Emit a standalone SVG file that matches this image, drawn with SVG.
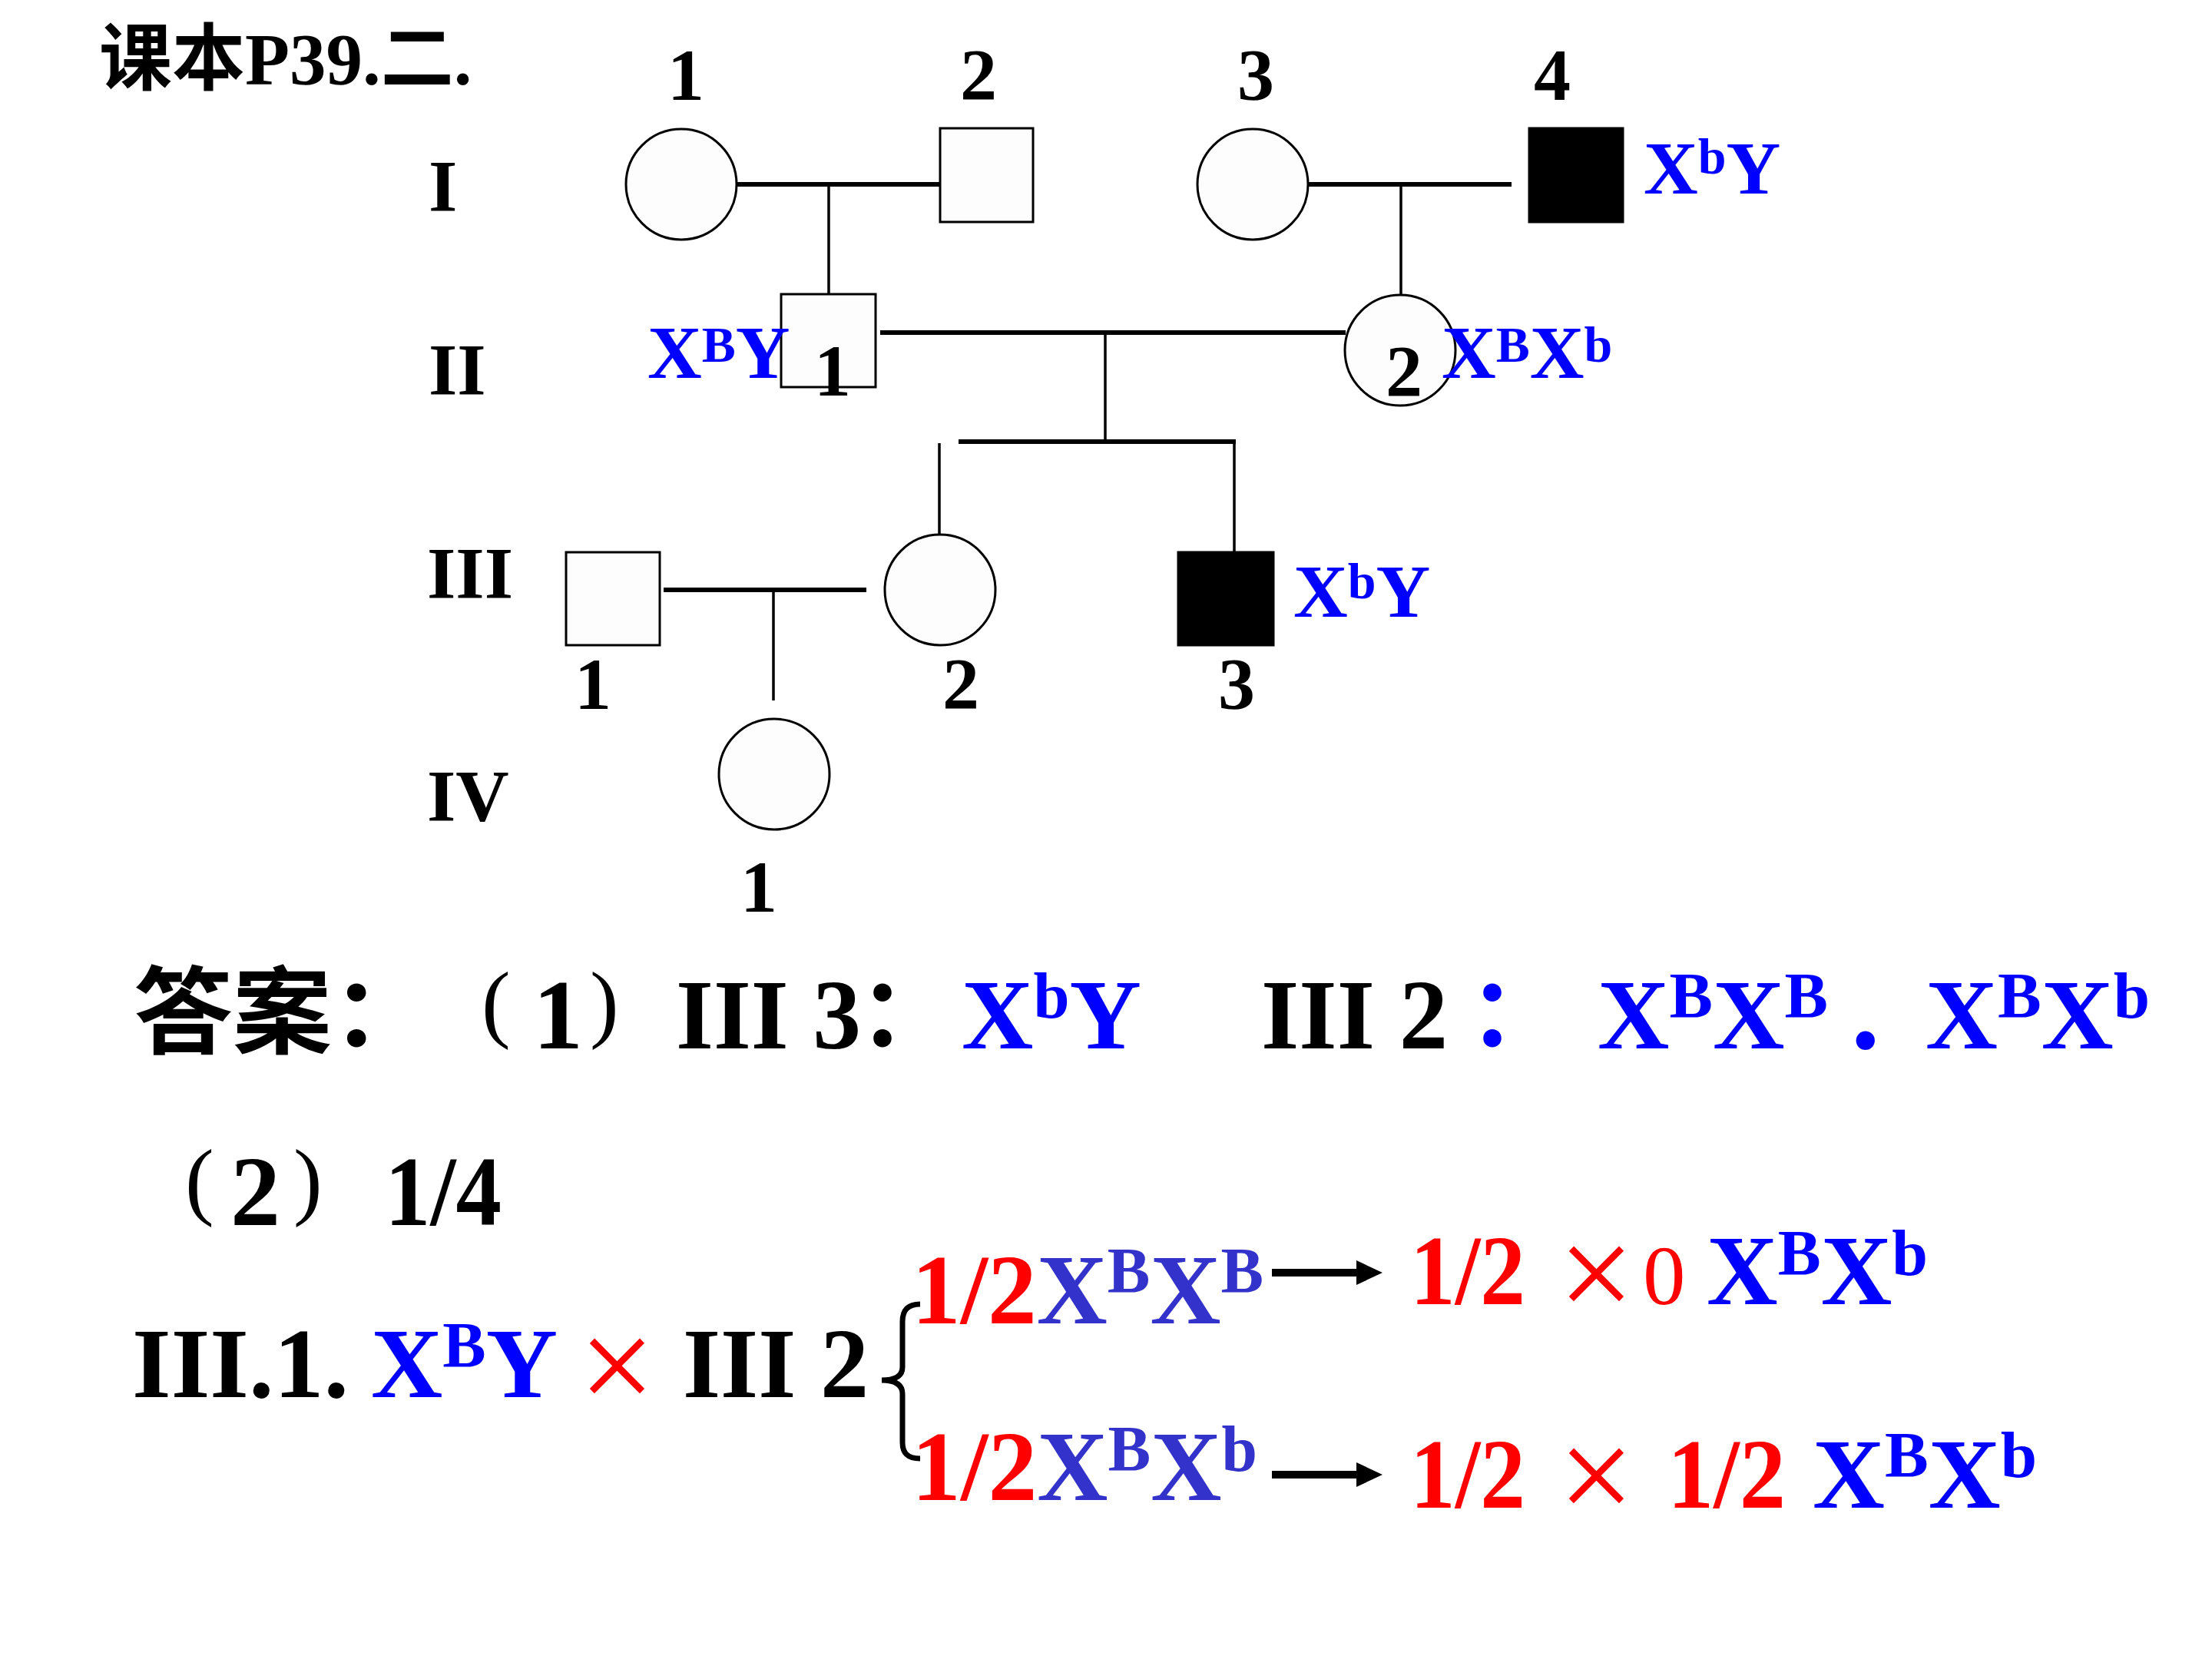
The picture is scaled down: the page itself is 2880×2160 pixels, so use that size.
<svg xmlns="http://www.w3.org/2000/svg" width="2880" height="2160" viewBox="0 0 2880 2160">
<defs>
<style>
.t{font-family:"Liberation Serif","Noto Sans CJK SC",serif;font-weight:bold;fill:#000}
.cj{font-family:"Liberation Serif","Noto Sans CJK SC",sans-serif;font-weight:bold;fill:#000}
.p{font-family:"Liberation Serif",serif;font-weight:normal;font-size:113px;fill:#000}
.n{font-size:96px}
.g{font-size:98px;fill:#0000ff}
.gs{font-size:66px}
.a{font-size:130px}
.as{font-size:85px}
.bl{fill:#0000ff}
.pb{fill:#3333cc}
.rd{fill:#ff0000}
.x{font-family:"Liberation Serif",serif;font-weight:normal;font-size:175px;fill:#ff0000}
.sh{fill:#fdfdfd;stroke:#000;stroke-width:3}
.af{fill:#000;stroke:#000;stroke-width:3}
.mar{stroke:#000;stroke-width:6;fill:none}
.des{stroke:#000;stroke-width:3.5;fill:none}
</style>
<path id="arr" d="M0,-5 H110 V-16 L144,0 L110,16 V5 H0 Z" fill="#000"/>
</defs>
<rect width="2880" height="2160" fill="#fff"/>

<text class="cj" x="129" y="110" font-size="95">课本P39.二.</text>

<g id="gen-labels">
<text class="t n" x="558" y="275">I</text>
<text class="t n" x="558" y="514">II</text>
<text class="t n" x="556" y="779">III</text>
<text class="t n" x="556" y="1069">IV</text>
</g>

<g id="connectors">
<line class="mar" x1="960" y1="240" x2="1224" y2="240"/>
<line class="des" x1="1079" y1="240" x2="1079" y2="383"/>
<line class="mar" x1="1703" y1="240" x2="1968" y2="240"/>
<line class="des" x1="1824" y1="240" x2="1824" y2="383"/>
<line class="mar" x1="1146" y1="433" x2="1752" y2="433"/>
<line class="des" x1="1439" y1="433" x2="1439" y2="575"/>
<line class="mar" x1="1248" y1="575" x2="1609" y2="575"/>
<line class="des" x1="1607" y1="575" x2="1607" y2="719"/>
<line class="des" x1="1223" y1="577" x2="1223" y2="695"/>
<line class="mar" x1="864" y1="768" x2="1128" y2="768"/>
<line class="des" x1="1007" y1="768" x2="1007" y2="912"/>
<use href="#arr" x="1656" y="1657"/>
<use href="#arr" x="1656" y="1920"/>
</g>

<g id="I-1"><circle class="sh" cx="887" cy="240" r="72"/><text class="t n" x="893" y="130" text-anchor="middle">1</text></g>
<g id="I-2"><rect class="sh" x="1224" y="167" width="121" height="122"/><text class="t n" x="1274" y="130" text-anchor="middle">2</text></g>
<g id="I-3"><circle class="sh" cx="1631" cy="240" r="72"/><text class="t n" x="1635" y="130" text-anchor="middle">3</text></g>
<g id="I-4"><rect class="af" x="1991" y="167" width="122" height="122"/><text class="t n" x="2021" y="130" text-anchor="middle">4</text>
<text class="t g" x="2140" y="252">X<tspan class="gs" dy="-26">b</tspan><tspan dy="26">Y</tspan></text></g>

<g id="II-1"><rect class="sh" x="1017" y="383" width="123" height="121"/>
<text class="t g" x="843" y="492">X<tspan class="gs" dy="-21">B</tspan><tspan dy="21">Y</tspan></text>
<text class="t n" x="1084" y="515" text-anchor="middle">1</text></g>
<g id="II-2"><circle class="sh" cx="1823" cy="456" r="72"/>
<text class="t n" x="1828" y="516" text-anchor="middle">2</text>
<text class="t g" x="1877" y="492">X<tspan class="gs" dy="-21">B</tspan><tspan dy="21">X</tspan><tspan class="gs" dy="-21">b</tspan></text></g>

<g id="III-1"><rect class="sh" x="737" y="719" width="122" height="121"/><text class="t n" x="772" y="923" text-anchor="middle">1</text></g>
<g id="III-2"><circle class="sh" cx="1224" cy="768" r="72"/><text class="t n" x="1251" y="923" text-anchor="middle">2</text></g>
<g id="III-3"><rect class="af" x="1534" y="719" width="124" height="121"/><text class="t n" x="1610" y="923" text-anchor="middle">3</text>
<text class="t g" x="1684" y="803">X<tspan class="gs" dy="-24">b</tspan><tspan dy="24">Y</tspan></text></g>
<g id="IV-1"><circle class="sh" cx="1008" cy="1008" r="72"/><text class="t n" x="988" y="1187" text-anchor="middle">1</text></g>

<g id="answer">
<text class="cj" font-size="124" x="174" y="1362" textLength="387" lengthAdjust="spacingAndGlyphs">答案：</text>
<text class="p" x="627" y="1343">(</text>
<text class="t a" x="694" y="1365">1</text>
<text class="p" x="768" y="1343">)</text>
<text class="t a" x="880" y="1365" textLength="241" lengthAdjust="spacingAndGlyphs">III 3</text>
<text class="cj" font-size="124" x="1118" y="1362">：</text>
<text class="t a bl" x="1252" y="1365" textLength="234" lengthAdjust="spacingAndGlyphs">X<tspan class="as" dy="-40">b</tspan><tspan dy="40">Y</tspan></text>
<text class="t a" x="1642" y="1365" textLength="243" lengthAdjust="spacingAndGlyphs">III 2</text>
<text class="cj bl" font-size="124" x="1912" y="1362">：</text>
<text class="t a bl" x="2080" y="1365" textLength="300" lengthAdjust="spacingAndGlyphs">X<tspan class="as" dy="-40">B</tspan><tspan dy="40">X</tspan><tspan class="as" dy="-40">B</tspan></text>
<text class="t bl" x="2410" y="1365" font-size="150">.</text>
<text class="t a bl" x="2507" y="1365" textLength="292" lengthAdjust="spacingAndGlyphs">X<tspan class="as" dy="-40">B</tspan><tspan dy="40">X</tspan><tspan class="as" dy="-40">b</tspan></text>

<text class="p" x="241" y="1574">(</text>
<text class="t a" x="300" y="1595">2</text>
<text class="p" x="382" y="1574">)</text>
<text class="t a" x="501" y="1595" textLength="152" lengthAdjust="spacingAndGlyphs">1/4</text>

<text class="t a" x="172" y="1819" textLength="282" lengthAdjust="spacingAndGlyphs">III.1.</text>
<text class="t a bl" x="483" y="1819" textLength="243" lengthAdjust="spacingAndGlyphs">X<tspan class="as" dy="-39">B</tspan><tspan dy="39">Y</tspan></text>
<text class="x" x="754" y="1837">×</text>
<text class="t a" x="889" y="1819" textLength="242" lengthAdjust="spacingAndGlyphs">III 2</text>
<path d="M1198,1698 C1182,1698 1175,1706 1175,1721 L1175,1780 C1175,1791 1166,1797 1148,1797 C1166,1797 1175,1803 1175,1815 L1175,1878 C1175,1892 1182,1899 1198,1899" stroke="#000" stroke-width="7" fill="none"/>

<text class="t a" x="1187" y="1723" textLength="458" lengthAdjust="spacingAndGlyphs"><tspan class="rd">1/2</tspan><tspan class="pb">X</tspan><tspan class="as pb" dy="-40">B</tspan><tspan class="pb" dy="40">X</tspan><tspan class="as pb" dy="-40">B</tspan></text>
<text class="t a rd" x="1836" y="1698" textLength="150" lengthAdjust="spacingAndGlyphs">1/2</text>
<text class="x" x="2029" y="1717">×</text>
<text class="rd" x="2139" y="1698" font-family="Liberation Serif,serif" font-size="111">0</text>
<text class="t a bl" x="2222" y="1698" textLength="288" lengthAdjust="spacingAndGlyphs">X<tspan class="as" dy="-38">B</tspan><tspan dy="38">X</tspan><tspan class="as" dy="-38">b</tspan></text>

<text class="t a" x="1187" y="1953" textLength="450" lengthAdjust="spacingAndGlyphs"><tspan class="rd">1/2</tspan><tspan class="pb">X</tspan><tspan class="as pb" dy="-38">B</tspan><tspan class="pb" dy="38">X</tspan><tspan class="as pb" dy="-38">b</tspan></text>
<text class="t a rd" x="1836" y="1963" textLength="150" lengthAdjust="spacingAndGlyphs">1/2</text>
<text class="x" x="2029" y="1980">×</text>
<text class="t a rd" x="2171" y="1963" textLength="154" lengthAdjust="spacingAndGlyphs">1/2</text>
<text class="t a bl" x="2360" y="1963" textLength="292" lengthAdjust="spacingAndGlyphs">X<tspan class="as" dy="-40">B</tspan><tspan dy="40">X</tspan><tspan class="as" dy="-40">b</tspan></text>
</g>
</svg>
